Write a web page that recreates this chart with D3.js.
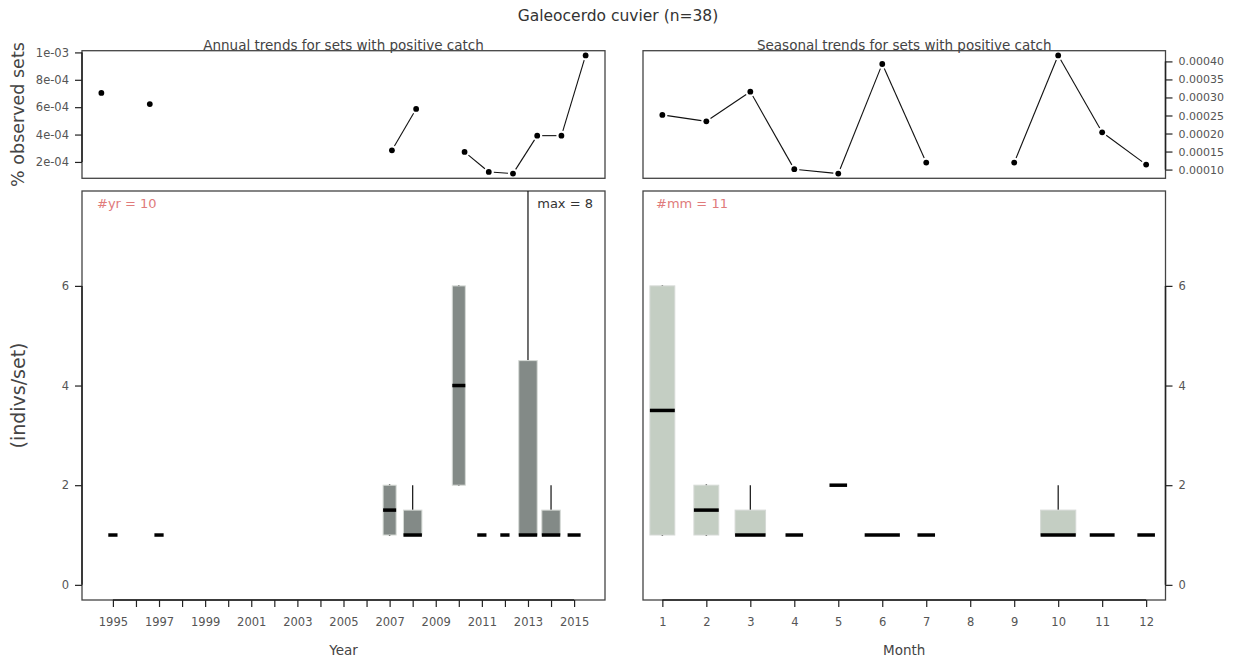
<!DOCTYPE html>
<html><head><meta charset="utf-8">
<script src="https://cdn.jsdelivr.net/npm/d3@7"></script>
<style>body{margin:0;background:#fff} text{font-family:"DejaVu Sans",sans-serif}</style>
</head><body><svg id="c" width="1235" height="661"></svg>
<script>
// ---------- data ----------
const years = [1995,1996,1997,1998,1999,2000,2001,2002,2003,2004,2005,2006,2007,2008,2009,2010,2011,2012,2013,2014,2015];
const yearLabels = [1995,1997,1999,2001,2003,2005,2007,2009,2011,2013,2015];
const annualPct = [7.04e-4,null,6.23e-4,null,null,null,null,null,null,null,null,null,2.85e-4,5.87e-4,null,2.73e-4,1.27e-4,1.15e-4,3.92e-4,3.92e-4,9.78e-4];
const months = [1,2,3,4,5,6,7,8,9,10,11,12];
const seasonalPct = [2.515e-4,2.338e-4,3.16e-4,1.01e-4,0.889e-4,3.928e-4,1.194e-4,null,1.194e-4,4.166e-4,2.033e-4,1.139e-4];
const annualTicks = [2e-4,4e-4,6e-4,8e-4,1e-3];
const annualTickLabels = ["2e-04","4e-04","6e-04","8e-04","1e-03"];
const seasonalTicks = [0.0001,0.00015,0.0002,0.00025,0.0003,0.00035,0.0004];
const seasonalTickLabels = ["0.00010","0.00015","0.00020","0.00025","0.00030","0.00035","0.00040"];
const countTicks = [0,2,4,6];

// box stats by year
const boxYears = [1995,1997,2007,2008,2010,2011,2012,2013,2014,2015];
const yrN   = [1,1,2,4,2,1,1,4,4,2];
const yrMin = [1,1,1,1,2,1,1,1,1,1];
const yrQ1  = [1,1,1,1,2,1,1,1,1,1];
const yrMed = [1,1,1.5,1,4,1,1,1,1,1];
const yrQ3  = [1,1,2,1.5,6,1,1,4.5,1.5,1];
const yrMax = [1,1,2,2,6,1,1,8,2,1];
// box stats by month
const boxMonths = [1,2,3,4,5,6,7,10,11,12];
const moN   = [2,2,3,1,1,4,1,4,2,1];
const moMin = [1,1,1,1,2,1,1,1,1,1];
const moQ1  = [1,1,1,1,2,1,1,1,1,1];
const moMed = [3.5,1.5,1,1,2,1,1,1,1,1];
const moQ3  = [6,2,1.5,1,2,1,1,1.5,1,1];
const moMax = [6,2,2,1,2,1,1,2,1,1];

const title = "Galeocerdo cuvier (n=38)";

// ---------- layout ----------
const svg = d3.select("#c");
const LX = [82, 605], RX = [643, 1165.5];
const TY = [178.3, 50.7], BY = [600, 191];
const pad4 = e => { const r = e[1]-e[0]; return [e[0]-0.04*r, e[1]+0.04*r]; };

const xYearTop = d3.scaleLinear().domain(pad4(d3.extent(years))).range(LX);
const xYearBox = d3.scaleLinear().domain([years[0]-0.5-0.84, years[years.length-1]+0.5+0.84]).range(LX);
const xMonth = d3.scaleLinear().domain(pad4(d3.extent(months))).range(RX);
const yAnn = d3.scaleLinear().domain(pad4(d3.extent(annualPct.filter(v=>v!=null)))).range(TY);
const ySea = d3.scaleLinear().domain(pad4(d3.extent(seasonalPct.filter(v=>v!=null)))).range(TY);
const yCnt = d3.scaleLinear().domain([-0.304, 7.904]).range(BY);

const tickCol = "#555", axCol = "#222", labCol = "#444";

// ---------- title ----------
svg.append("text").attr("x", 618).attr("y", 21).attr("text-anchor","middle")
  .attr("font-size", 15.5).attr("fill","#333").text(title);

// ---------- helper: type "b" line+points ----------
function lineB(g, xs, vals, x, y){
  const pts = xs.map((d,i)=> vals[i]==null? null : [x(d), y(vals[i])]);
  const gap = 5;
  for(let i=0;i<pts.length-1;i++){
    const a=pts[i], b=pts[i+1];
    if(!a||!b) continue;
    const dx=b[0]-a[0], dy=b[1]-a[1], L=Math.hypot(dx,dy);
    if(L<=2*gap) continue;
    const ux=dx/L, uy=dy/L;
    g.append("line").attr("x1",a[0]+ux*gap).attr("y1",a[1]+uy*gap)
      .attr("x2",b[0]-ux*gap).attr("y2",b[1]-uy*gap)
      .attr("stroke","#111").attr("stroke-width",1.1);
  }
  g.selectAll("circle.p").data(pts.filter(p=>p)).join("circle")
    .attr("cx",p=>p[0]).attr("cy",p=>p[1]).attr("r",2.9).attr("fill","#000");
}

function frame(xr, yr){
  svg.append("rect").attr("x",xr[0]).attr("y",yr[1]).attr("width",xr[1]-xr[0]).attr("height",yr[0]-yr[1])
    .attr("fill","none").attr("stroke","#444").attr("stroke-width",1.3);
}

function yAxis(scale, ticks, labels, xPos, side, fs){
  const g = svg.append("g").attr("transform",`translate(${xPos},0)`);
  const ax = (side==="left"? d3.axisLeft(scale) : d3.axisRight(scale))
    .tickValues(ticks).tickFormat((d,i)=>labels[i]).tickSize(7).tickPadding(6);
  g.call(ax);
  g.select(".domain").remove();
  g.selectAll(".tick line").attr("stroke",axCol).attr("stroke-width",1.2);
  g.selectAll(".tick text").attr("fill",tickCol).attr("font-size",fs).attr("font-family","DejaVu Sans, sans-serif");
  g.append("line").attr("x1",0).attr("x2",0).attr("y1",scale(ticks[0])).attr("y2",scale(ticks[ticks.length-1]))
    .attr("stroke",axCol).attr("stroke-width",1.5);
}

function xAxis(scale, ticks, labelSet, yPos){
  const g = svg.append("g").attr("transform",`translate(0,${yPos})`);
  g.call(d3.axisBottom(scale).tickValues(ticks).tickFormat(d=> labelSet.includes(d)? String(d):"").tickSize(7).tickPadding(11));
  g.select(".domain").remove();
  g.selectAll(".tick line").attr("stroke",axCol).attr("stroke-width",1.2);
  g.selectAll(".tick text").attr("fill",tickCol).attr("font-size",11.5).attr("font-family","DejaVu Sans, sans-serif");
  g.append("line").attr("y1",0).attr("y2",0).attr("x1",scale(ticks[0])).attr("x2",scale(ticks[ticks.length-1]))
    .attr("stroke",axCol).attr("stroke-width",1.5);
}

// ---------- top-left ----------
frame(LX, TY);
lineB(svg.append("g"), years, annualPct, xYearTop, yAnn);
yAxis(yAnn, annualTicks, annualTickLabels, LX[0], "left", 11.5);
svg.append("text").attr("x", (LX[0]+LX[1])/2).attr("y", 49.5).attr("text-anchor","middle")
  .attr("font-size",13.5).attr("fill",labCol).text("Annual trends for sets with positive catch");
svg.append("text").attr("transform",`translate(24,${(TY[0]+TY[1])/2}) rotate(-90)`).attr("text-anchor","middle")
  .attr("font-size",17.5).attr("fill",labCol).text("% observed sets");

// ---------- top-right ----------
frame(RX, TY);
lineB(svg.append("g"), months, seasonalPct, xMonth, ySea);
yAxis(ySea, seasonalTicks, seasonalTickLabels, RX[1], "right", 11);
svg.append("text").attr("x", (RX[0]+RX[1])/2).attr("y", 49.5).attr("text-anchor","middle")
  .attr("font-size",13.5).attr("fill",labCol).text("Seasonal trends for sets with positive catch");

// ---------- box panels ----------
function boxes(id, xr, x, cats, N, mn, q1, md, q3, mx, fill, unitW){
  const defs = svg.append("defs");
  defs.append("clipPath").attr("id",id).append("rect")
    .attr("x",xr[0]).attr("y",BY[1]).attr("width",xr[1]-xr[0]).attr("height",BY[0]-BY[1]);
  const g = svg.append("g").attr("clip-path",`url(#${id})`);
  const maxN = d3.max(N);
  const hw = i => 0.8*unitW*Math.sqrt(N[i]/maxN)/2;
  cats.forEach((c,i)=>{
    const cx = x(c), w = hw(i);
    [[q3[i],mx[i]],[q1[i],mn[i]]].forEach(([a,b])=>{
      if(a===b) g.append("circle").attr("cx",cx).attr("cy",yCnt(a)).attr("r",0.9).attr("fill","#111");
      else g.append("line").attr("x1",cx).attr("x2",cx).attr("y1",yCnt(a)).attr("y2",yCnt(b))
        .attr("stroke","#111").attr("stroke-width",1.2);
    });
    g.append("rect").attr("x",cx-w).attr("width",2*w).attr("y",yCnt(q3[i])).attr("height",yCnt(q1[i])-yCnt(q3[i]))
      .attr("fill",fill).attr("stroke","#d6dad6").attr("stroke-width",1);
    g.append("line").attr("x1",cx-w).attr("x2",cx+w).attr("y1",yCnt(md[i])).attr("y2",yCnt(md[i]))
      .attr("stroke","#000").attr("stroke-width",3.5);
  });
}

const nYr = annualPct.filter(v=>v!=null).length;
const nMm = seasonalPct.filter(v=>v!=null).length;

frame(LX, BY);
boxes("clipL", LX, xYearBox, boxYears, yrN, yrMin, yrQ1, yrMed, yrQ3, yrMax, "#838a87", xYearBox(1)-xYearBox(0));
yAxis(yCnt, countTicks, countTicks.map(String), LX[0], "left", 11.5);
xAxis(xYearBox, years, yearLabels, BY[0]);
svg.append("text").attr("x",97).attr("y",208).attr("font-size",13).attr("fill","#e07b7b").text(`#yr = ${nYr}`);
svg.append("text").attr("x",593).attr("y",208).attr("text-anchor","end").attr("font-size",13).attr("fill","#333").text(`max = ${d3.max(yrMax)}`);
svg.append("text").attr("x",(LX[0]+LX[1])/2).attr("y",655).attr("text-anchor","middle").attr("font-size",13.5).attr("fill",labCol).text("Year");
svg.append("text").attr("transform",`translate(25,${(BY[0]+BY[1])/2}) rotate(-90)`).attr("text-anchor","middle")
  .attr("font-size",19).attr("fill",labCol).text("(indivs/set)");

frame(RX, BY);
boxes("clipR", RX, xMonth, boxMonths, moN, moMin, moQ1, moMed, moQ3, moMax, "#c4cec3", xMonth(1)-xMonth(0));
yAxis(yCnt, countTicks, countTicks.map(String), RX[1], "right", 11.5);
xAxis(xMonth, months, months, BY[0]);
svg.append("text").attr("x",656).attr("y",208).attr("font-size",13).attr("fill","#e07b7b").text(`#mm = ${nMm}`);
svg.append("text").attr("x",(RX[0]+RX[1])/2).attr("y",655).attr("text-anchor","middle").attr("font-size",13.5).attr("fill",labCol).text("Month");
</script></body></html>
